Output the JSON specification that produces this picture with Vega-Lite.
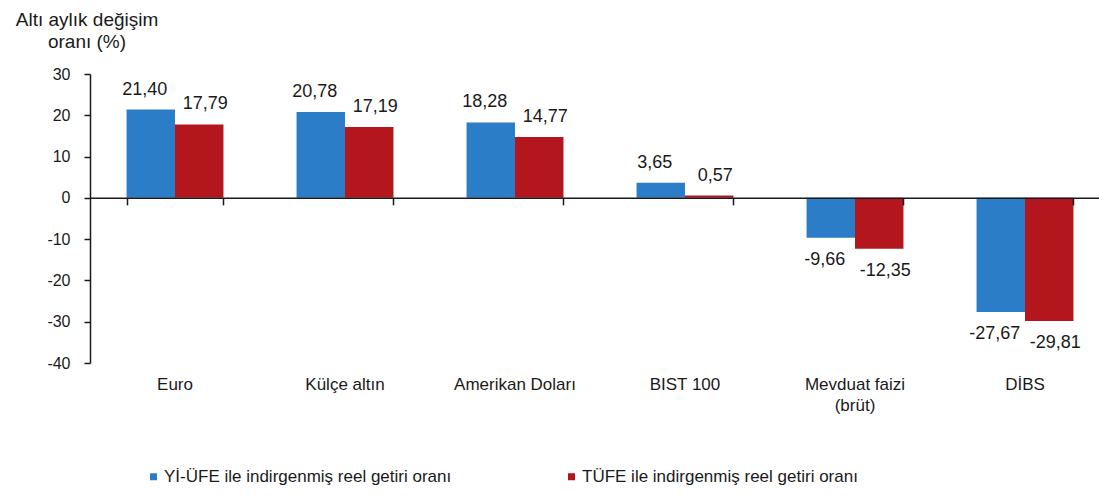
{
  "$schema": "https://vega.github.io/schema/vega-lite/v6.json",
  "width": 1009,
  "height": 289,
  "autosize": {"type": "none"},
  "padding": {"left": 90, "top": 74, "right": 0, "bottom": 134},
  "background": "white",
  "config": {
    "font": "Liberation Sans",
    "view": {"stroke": null},
    "locale": {"number": {"decimal": ",", "thousands": ".", "grouping": [3], "currency": ["", " TL"], "minus": "-"}}
  },
  "data": {
    "values": [
      {"kategori": "Euro", "seri": "Yİ-ÜFE ile indirgenmiş reel getiri oranı", "deger": 21.40},
      {"kategori": "Euro", "seri": "TÜFE ile indirgenmiş reel getiri oranı", "deger": 17.79},
      {"kategori": "Külçe altın", "seri": "Yİ-ÜFE ile indirgenmiş reel getiri oranı", "deger": 20.78},
      {"kategori": "Külçe altın", "seri": "TÜFE ile indirgenmiş reel getiri oranı", "deger": 17.19},
      {"kategori": "Amerikan Doları", "seri": "Yİ-ÜFE ile indirgenmiş reel getiri oranı", "deger": 18.28},
      {"kategori": "Amerikan Doları", "seri": "TÜFE ile indirgenmiş reel getiri oranı", "deger": 14.77},
      {"kategori": "BIST 100", "seri": "Yİ-ÜFE ile indirgenmiş reel getiri oranı", "deger": 3.65},
      {"kategori": "BIST 100", "seri": "TÜFE ile indirgenmiş reel getiri oranı", "deger": 0.57},
      {"kategori": "Mevduat faizi (brüt)", "seri": "Yİ-ÜFE ile indirgenmiş reel getiri oranı", "deger": -9.66},
      {"kategori": "Mevduat faizi (brüt)", "seri": "TÜFE ile indirgenmiş reel getiri oranı", "deger": -12.35},
      {"kategori": "DİBS", "seri": "Yİ-ÜFE ile indirgenmiş reel getiri oranı", "deger": -27.67},
      {"kategori": "DİBS", "seri": "TÜFE ile indirgenmiş reel getiri oranı", "deger": -29.81}
    ]
  },
  "encoding": {
    "xOffset": {"field": "seri", "type": "nominal", "sort": null, "scale": {"paddingInner": 0, "paddingOuter": 0}},
    "y": {
      "field": "deger",
      "type": "quantitative",
      "scale": {"domain": [-40, 30], "nice": false, "zero": false},
      "axis": {
        "values": [-40, -30, -20, -10, 0, 10, 20, 30],
        "grid": false,
        "domainColor": "#1a1a1a",
        "domainWidth": 1.5,
        "tickColor": "#1a1a1a",
        "tickWidth": 1.5,
        "tickSize": 6,
        "labelFontSize": 16,
        "labelColor": "#1a1a1a",
        "labelPadding": 14,
        "title": ["Altı aylık değişim", "oranı (%)"],
        "titleAngle": 0,
        "titleAlign": "center",
        "titleBaseline": "alphabetic",
        "titleX": -3.5,
        "titleY": -49,
        "titleFontSize": 19,
        "titleFontWeight": "normal",
        "titleLineHeight": 22,
        "titleColor": "#1a1a1a"
      }
    }
  },
  "layer": [
    {
      "mark": {"type": "bar"},
      "encoding": {
        "x": {
          "field": "kategori",
          "type": "nominal",
          "sort": null,
          "scale": {"range": [0, 1020], "paddingInner": 0.43, "paddingOuter": 0.215},
          "axis": {
            "orient": "bottom",
            "domain": false,
            "ticks": false,
            "labelAngle": 0,
            "labelFontSize": 17,
            "labelColor": "#1a1a1a",
            "labelPadding": 13,
            "labelLineHeight": 21,
            "labelExpr": "datum.label == 'Mevduat faizi (brüt)' ? ['Mevduat faizi', '(brüt)'] : datum.label",
            "title": null
          }
        },
        "color": {
          "field": "seri",
          "type": "nominal",
          "sort": null,
          "scale": {
            "domain": ["Yİ-ÜFE ile indirgenmiş reel getiri oranı", "TÜFE ile indirgenmiş reel getiri oranı"],
            "range": ["#2A7DC6", "#B3171D"]
          },
          "legend": {
            "orient": "none",
            "legendX": 55,
            "legendY": 394,
            "direction": "horizontal",
            "title": null,
            "symbolType": "square",
            "symbolSize": 49,
            "symbolStrokeWidth": 0,
            "labelFontSize": 17,
            "labelColor": "#1a1a1a",
            "labelOffset": 2,
            "columnPadding": 111,
            "padding": 0,
            "labelLimit": 500
          }
        }
      }
    },
    {
      "mark": {
        "type": "text",
        "fontSize": 18,
        "color": "#1a1a1a",
        "baseline": "alphabetic",
        "dx": {"expr": "datum.seri == 'TÜFE ile indirgenmiş reel getiri oranı' ? 6 : -6"},
        "dy": {"expr": "datum.deger < 0 ? 27 : -15"}
      },
      "encoding": {
        "x": {
          "field": "kategori",
          "type": "nominal",
          "sort": null,
          "scale": {"range": [0, 1020], "paddingInner": 0.43, "paddingOuter": 0.215},
          "axis": {
            "orient": "top",
            "offset": -123.857,
            "labels": false,
            "domain": true,
            "domainColor": "#1a1a1a",
            "domainWidth": 1.5,
            "ticks": true,
            "tickBand": "extent",
            "tickSize": -7,
            "tickColor": "#1a1a1a",
            "tickWidth": 1.5,
            "title": null,
            "grid": false,
            "zindex": 1
          }
        },
        "text": {"field": "deger", "type": "quantitative", "format": ".2f"}
      }
    }
  ],
  "resolve": {"axis": {"x": "independent"}}
}
